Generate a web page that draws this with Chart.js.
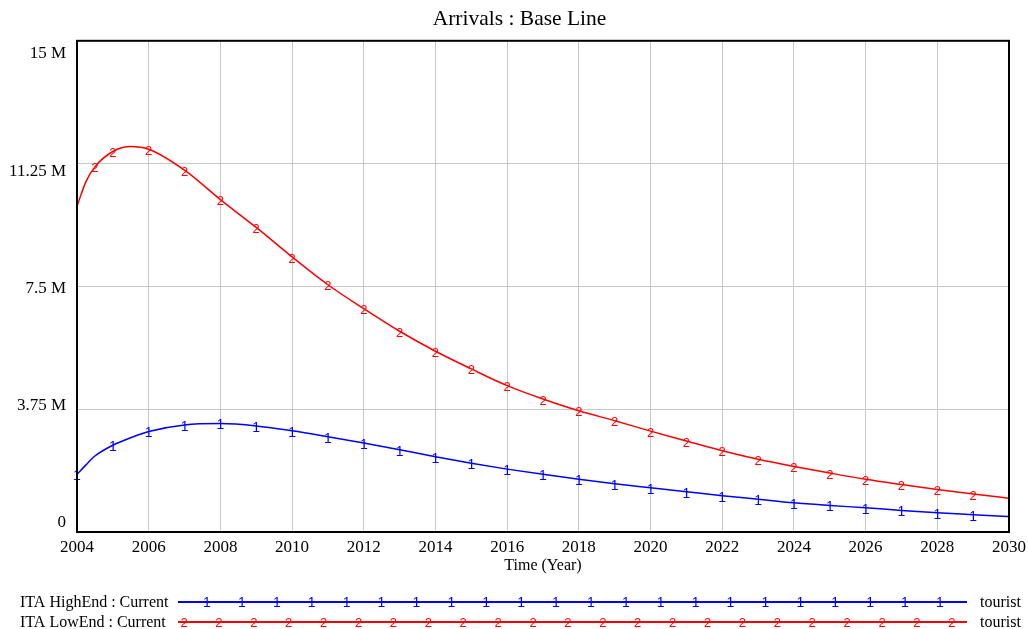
<!DOCTYPE html>
<html lang="en">
<head>
    <meta charset="UTF-8">
    <title>Arrivals : Base Line</title>
    <script src="https://cdn.jsdelivr.net/npm/chart.js"></script>
    <style>
        html, body { margin: 0; padding: 0; background: #fff; }
        #wrap { width: 1028px; height: 629px; position: relative; }
    </style>
</head>
<body>
    <div id="wrap"><canvas id="arrivals"></canvas></div>

    <script>
        // time axis (years), finer steps at the start where the curves bend fast
        const years = [2004, 2004.25, 2004.5, 2005, 2005.5, 2006, 2007, 2008, 2009, 2010,
            2011, 2012, 2013, 2014, 2015, 2016, 2017, 2018, 2019, 2020,
            2021, 2022, 2023, 2024, 2025, 2026, 2027, 2028, 2029, 2030];

        // arrivals, millions of tourists
        const highEnd = [1.76, 2.05, 2.32, 2.65, 2.88, 3.07, 3.27, 3.31, 3.24, 3.09,
            2.91, 2.72, 2.51, 2.30, 2.10, 1.92, 1.76, 1.61, 1.47, 1.35,
            1.23, 1.11, 1.00, 0.89, 0.81, 0.74, 0.66, 0.59, 0.53, 0.47];
        const lowEnd = [9.95, 10.70, 11.15, 11.62, 11.77, 11.69, 11.05, 10.15, 9.30, 8.40,
            7.55, 6.82, 6.13, 5.52, 4.98, 4.47, 4.06, 3.70, 3.40, 3.08,
            2.78, 2.48, 2.22, 2.00, 1.80, 1.61, 1.45, 1.30, 1.16, 1.03];

        const seriesNames = ['ITA HighEnd : Current', 'ITA LowEnd : Current'];
        const seriesUnit = 'tourist';
        const yTicks = [0, 3.75, 7.5, 11.25, 15];

        // years where the series number is stamped on the line
        const highMarks = years.filter(y => Number.isInteger(y) && y < 2030);
        const lowMarks = [2004.5].concat(years.filter(y => Number.isInteger(y) && y > 2004 && y < 2030));

        const serif = '"Liberation Serif", "Times New Roman", serif';
        const markFont = '"Liberation Sans", Arial, sans-serif';

        const toPoints = (vals) => vals.map((v, i) => ({ x: years[i], y: v * 1e6 }));

        const markerPlugin = {
            id: 'markers',
            afterDatasetsDraw(chart) {
                const ctx = chart.ctx;
                chart.data.datasets.forEach((ds, i) => {
                    const meta = chart.getDatasetMeta(i);
                    ctx.save();
                    ctx.fillStyle = ds.borderColor;
                    ctx.font = ds.markSize + 'px ' + markFont;
                    ctx.textAlign = 'center';
                    ctx.textBaseline = 'middle';
                    meta.data.forEach((pt, j) => {
                        if (ds.markYears.includes(years[j])) ctx.fillText(ds.marker, pt.x, pt.y + 2);
                    });
                    ctx.restore();
                });
            }
        };

        const framePlugin = {
            id: 'frame',
            afterDraw(chart) {
                const ctx = chart.ctx;
                const a = chart.chartArea;
                const ys = chart.scales.y;
                ctx.save();
                ctx.strokeStyle = '#000';
                ctx.lineWidth = 2;
                ctx.strokeRect(a.left, a.top, a.right - a.left, a.bottom - a.top);

                // y labels, nudged toward the middle like the original tool does
                ctx.fillStyle = '#000';
                ctx.font = '17px ' + serif;
                ctx.textAlign = 'right';
                ctx.textBaseline = 'middle';
                const mid = (a.top + a.bottom) / 2;
                yTicks.forEach(v => {
                    const py = ys.getPixelForValue(v * 1e6);
                    const label = v === 0 ? '0' : v + ' M';
                    ctx.fillText(label, a.left - 11, py + (mid - py) * 0.045 + 2);
                });

                // legend at the bottom
                const lineStart = 178, lineEnd = chart.width - 61;
                const rows = [chart.height - 27, chart.height - 7];
                chart.data.datasets.forEach((ds, i) => {
                    const y = rows[i];
                    ctx.font = '16px ' + serif;
                    ctx.fillStyle = '#000';
                    ctx.textAlign = 'left';
                    ctx.fillText(seriesNames[i], 20, y + 1);
                    ctx.fillText(seriesUnit, lineEnd + 13, y + 1);
                    ctx.strokeStyle = ds.borderColor;
                    ctx.lineWidth = 2;
                    ctx.beginPath();
                    ctx.moveTo(lineStart, y);
                    ctx.lineTo(lineEnd, y);
                    ctx.stroke();
                    ctx.fillStyle = ds.borderColor;
                    ctx.font = ds.markSize + 'px ' + markFont;
                    ctx.textAlign = 'center';
                    const first = i === 0 ? lineStart + 29 : lineStart + 6;
                    for (let x = first; x < lineEnd - 12; x += 34.9) {
                        ctx.fillText(ds.marker, x, y + 1);
                    }
                });
                ctx.restore();
            }
        };

        new Chart(document.getElementById('arrivals'), {
            type: 'line',
            data: {
                datasets: [{
                    label: seriesNames[0],
                    data: toPoints(highEnd),
                    borderColor: '#0000ff',
                    borderWidth: 1.5,
                    pointRadius: 0,
                    cubicInterpolationMode: 'monotone',
                    marker: '1',
                    markSize: 14,
                    markYears: highMarks
                }, {
                    label: seriesNames[1],
                    data: toPoints(lowEnd),
                    borderColor: '#ff0000',
                    borderWidth: 1.5,
                    pointRadius: 0,
                    cubicInterpolationMode: 'monotone',
                    marker: '2',
                    markSize: 13,
                    markYears: lowMarks
                }]
            },
            options: {
                responsive: true,
                maintainAspectRatio: false,
                animation: false,
                layout: { padding: { left: 30, right: 19, top: 0, bottom: 50 } },
                plugins: {
                    legend: { display: false },
                    tooltip: { enabled: false },
                    title: {
                        display: true,
                        text: 'Arrivals : Base Line',
                        color: '#000',
                        font: { family: serif, size: 21.5, weight: 'normal' },
                        padding: { top: 6, bottom: 9 }
                    }
                },
                scales: {
                    x: {
                        type: 'linear',
                        min: 2004,
                        max: 2030,
                        afterFit: (s) => { s.height = 47; s.paddingLeft = 0; s.paddingRight = 0; },
                        grid: { color: '#c8c8c8', drawTicks: false },
                        border: { display: false },
                        ticks: {
                            stepSize: 2,
                            padding: 5,
                            color: '#000',
                            maxRotation: 0,
                            font: { family: serif, size: 17 },
                            callback: (v) => String(v)
                        },
                        title: {
                            display: true,
                            text: 'Time (Year)',
                            color: '#000',
                            font: { family: serif, size: 16 },
                            padding: { top: 0, bottom: 4 }
                        }
                    },
                    y: {
                        min: 0,
                        max: 15e6,
                        afterFit: (s) => { s.width = 47; s.paddingTop = 0; s.paddingBottom = 0; },
                        afterBuildTicks: (s) => { s.ticks = yTicks.map(v => ({ value: v * 1e6 })); },
                        grid: { color: '#c8c8c8', drawTicks: false },
                        border: { display: false },
                        ticks: { display: false }
                    }
                }
            },
            plugins: [markerPlugin, framePlugin]
        });
    </script>
</body>
</html>
